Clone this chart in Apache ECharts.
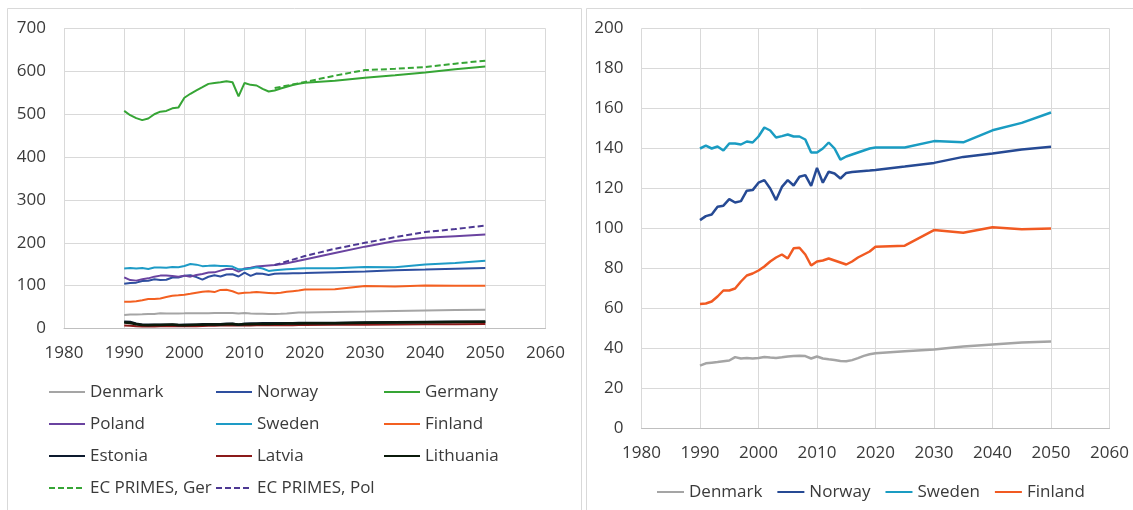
<!DOCTYPE html>
<html>
<head>
<meta charset="utf-8">
<script src="https://cdn.jsdelivr.net/npm/echarts@6/dist/echarts.min.js"></script>
<style>
  html, body { margin: 0; padding: 0; background: #ffffff; }
  #chart { width: 1133px; height: 510px; }
</style>
</head>
<body>
<div id="chart"></div>
<script>
// ---------- DATA ----------
const years = [1990,1991,1992,1993,1994,1995,1996,1997,1998,1999,2000,2001,2002,2003,2004,2005,2006,2007,2008,2009,2010,2011,2012,2013,2014,2015,2016,2017,2018,2019,2020,2025,2030,2035,2040,2045,2050];
const primesYears = [2015,2020,2025,2030,2035,2040,2045,2050];

const denmark = [31.4,32.6,32.9,33.2,33.6,34.0,35.7,35.0,35.2,35.0,35.3,35.8,35.5,35.3,35.6,36.0,36.3,36.4,36.2,35.0,36.0,35.0,34.6,34.3,33.8,33.6,34.2,35.2,36.3,37.1,37.6,38.6,39.5,41.0,42.0,43.0,43.5];
const norway = [104.2,106.2,107.0,110.9,111.4,114.7,113.0,113.7,118.9,119.2,122.9,124.2,120.0,114.2,120.8,124.2,121.5,125.9,126.7,121.3,130.3,122.9,128.4,127.5,125.0,127.8,128.2,128.5,128.8,129.0,129.3,131.0,132.8,135.8,137.5,139.5,140.9];
const sweden = [140.0,141.4,140.0,141.0,139.0,142.5,142.5,142.0,143.5,143.0,146.0,150.5,149.0,145.5,146.2,147.0,146.0,146.0,144.5,138.0,138.0,140.0,143.0,140.0,134.4,136.0,137.0,138.0,139.0,140.0,140.5,140.5,143.7,143.1,149.1,152.8,158.0];
const finland = [62.3,62.5,63.5,66.0,69.0,69.0,70.0,73.5,76.5,77.5,79.0,81.0,83.5,85.5,87.0,85.0,90.1,90.4,87.0,81.5,83.5,84.0,85.0,84.0,83.0,82.0,83.5,85.5,87.0,88.5,90.9,91.4,99.2,97.9,100.6,99.6,100.0];
const germany = [507.7,497.7,490.8,486.2,490.0,500.0,506.0,507.7,513.8,515.4,538.5,547.7,555.4,563.0,570.8,573.0,574.6,577.0,574.6,541.5,573.0,568.5,567.0,559.0,553.0,555.4,560.0,564.0,568.0,571.0,573.5,578.0,585.0,591.0,597.5,605.0,611.5];
const poland = [119.5,113.0,111.7,114.8,117.0,121.0,123.4,123.4,122.6,121.0,123.4,121.0,125.0,127.3,130.5,131.0,135.0,139.0,139.0,132.8,140.0,142.0,144.5,146.0,147.0,148.0,150.0,152.0,155.0,158.0,161.0,176.0,191.0,204.0,211.5,215.5,219.4];
const estonia = [16,15,11,9,9,8.5,9,9,8.5,8,8.5,8.5,9,10,10,10,10,11,11,9,11,11.5,11.5,12,12,12,12.2,12.4,12.5,12.6,12.7,13,14,14.5,15,15.5,16];
const latvia = [7,6.5,5,4.5,4.5,4.5,5,5,5,5,5,5.5,5.5,6,6.5,6.5,7,7,7,7,7.5,7,7.5,7.5,7.5,7.5,7.6,7.7,7.8,7.9,8,8.5,9,9.5,10,10,10.5];
const lithuania = [14,13,10,8,7.5,8,8,9,9.5,8,7.5,8,8.5,9,9.5,9.5,9.5,10,10.5,9.5,10,10,10.5,10.5,10.5,11,11.2,11.4,11.6,11.8,12,12.5,13.5,14,14.5,15,15.5];
const primesGer = [561,575,590,603,606,610,618,625];
const primesPol = [148,169,186,200,213,225,232,240];

const xTicks = [1980,1990,2000,2010,2020,2030,2040,2050,2060];
const leftYMax = 700, leftYStep = 100;
const rightYMax = 200, rightYStep = 20;

// ---------- STYLES ----------
const FONT = '"Open Sans", "Noto Sans", sans-serif';
const TXT = '#3a3a3a';
const GRID = '#d9d9d9';
const C = {
  Denmark: '#a5a5a5', Norway: '#2e4f9f', Germany: '#36a535', Poland: '#6a43a0',
  Sweden: '#1e9bc6', Finland: '#f36021', Estonia: '#0d1a2e', Latvia: '#8b1a1a',
  Lithuania: '#0b1a0b', PrimesGer: '#36a535', PrimesPol: '#4d3893'
};
const CR = { Denmark: '#a5a5a5', Norway: '#264a94', Sweden: '#1a9cc2', Finland: '#f15a22' };

const pairs = (xs, vs) => xs.map((x, i) => [x, vs[i]]);

function lineSeries(name, xs, vs, color, gi, width, dashed) {
  return {
    id: name + gi,
    name: name, type: 'line', xAxisIndex: gi, yAxisIndex: gi,
    data: pairs(xs, vs), showSymbol: false, symbol: 'none', smooth: false,
    lineStyle: { color: color, width: width, type: dashed ? [6, 3] : 'solid' },
    itemStyle: { color: color },
    emphasis: { disabled: true }, animation: false, z: 2
  };
}

const xAxisBase = (gi) => ({
  type: 'value', gridIndex: gi, min: 1980, max: 2060, interval: 10,
  axisLine: { show: true, lineStyle: { color: '#bfbfbf', width: 1 } },
  axisTick: { show: false },
  splitLine: { show: true, lineStyle: { color: GRID, width: 1 } },
  axisLabel: { color: TXT, fontFamily: FONT, fontSize: 17, margin: 16,
    formatter: v => xTicks.includes(v) ? String(v) : '' }
});
const yAxisBase = (gi, max, step) => ({
  type: 'value', gridIndex: gi, min: 0, max: max, interval: step,
  axisLine: { show: false }, axisTick: { show: false },
  splitLine: { show: true, lineStyle: { color: GRID, width: 1 } },
  axisLabel: { color: TXT, fontFamily: FONT, fontSize: 17, margin: 18 }
});

const legendText = { color: TXT, fontFamily: FONT, fontSize: 17, lineHeight: 20 };
const colLegend = (left, names) => ({
  orient: 'vertical', left: left, top: 382, padding: 0, itemWidth: 36, itemHeight: 14, itemGap: 12,
  selectedMode: false, textStyle: legendText, data: names,
  itemStyle: { opacity: 0 }
});

const series = [
  lineSeries('Denmark', years, denmark, C.Denmark, 0, 2),
  lineSeries('Norway', years, norway, C.Norway, 0, 2),
  lineSeries('Germany', years, germany, C.Germany, 0, 2),
  lineSeries('Poland', years, poland, C.Poland, 0, 2),
  lineSeries('Sweden', years, sweden, C.Sweden, 0, 2),
  lineSeries('Finland', years, finland, C.Finland, 0, 2),
  lineSeries('Latvia', years, latvia, C.Latvia, 0, 2),
  lineSeries('Estonia', years, estonia, C.Estonia, 0, 2.5),
  lineSeries('Lithuania', years, lithuania, C.Lithuania, 0, 2.5),
  lineSeries('EC PRIMES, Ger', primesYears, primesGer, C.PrimesGer, 0, 2, true),
  lineSeries('EC PRIMES, Pol', primesYears, primesPol, C.PrimesPol, 0, 2, true),
  lineSeries('Denmark ', years, denmark, CR.Denmark, 1, 2.5),
  lineSeries('Norway ', years, norway, CR.Norway, 1, 2.5),
  lineSeries('Sweden ', years, sweden, CR.Sweden, 1, 2.5),
  lineSeries('Finland ', years, finland, CR.Finland, 1, 2.5)
];

const option = {
  backgroundColor: '#ffffff',
  animation: false,
  graphic: [
    { type: 'rect', shape: { x: 7.5, y: 8.5, width: 574, height: 520 }, style: { fill: 'none', stroke: '#d9d9d9', lineWidth: 1 }, silent: true, z: -10 },
    { type: 'rect', shape: { x: 586.5, y: 8.5, width: 560, height: 520 }, style: { fill: 'none', stroke: '#d9d9d9', lineWidth: 1 }, silent: true, z: -10 }
  ],
  grid: [
    { left: 64, top: 28.5, width: 481.5, height: 300 },
    { left: 641.5, top: 28.5, width: 468, height: 400 }
  ],
  xAxis: [xAxisBase(0), xAxisBase(1)],
  yAxis: [yAxisBase(0, leftYMax, leftYStep), yAxisBase(1, rightYMax, rightYStep)],
  legend: [
    colLegend(48, ['Denmark', 'Poland', 'Estonia', 'EC PRIMES, Ger']),
    colLegend(215, ['Norway', 'Sweden', 'Latvia', 'EC PRIMES, Pol']),
    colLegend(383, ['Germany', 'Finland', 'Lithuania']),
    { orient: 'horizontal', left: 656, top: 482, padding: 0, itemWidth: 27, itemHeight: 14, itemGap: 14,
      selectedMode: false, textStyle: legendText, itemStyle: { opacity: 0 },
      data: ['Denmark ', 'Norway ', 'Sweden ', 'Finland '],
      formatter: n => n.trim() }
  ],
  series: series
};

const chart = echarts.init(document.getElementById('chart'), null, { renderer: 'canvas' });
chart.setOption(option);
</script>
</body>
</html>
